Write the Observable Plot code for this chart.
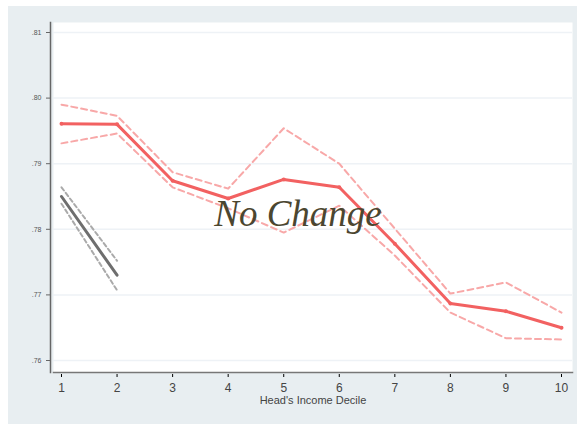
<!DOCTYPE html>
<html><head><meta charset="utf-8">
<script src="https://cdn.jsdelivr.net/npm/d3@7"></script>
<script src="https://cdn.jsdelivr.net/npm/@observablehq/plot@0.6"></script>
<style>
html,body{margin:0;padding:0;background:#fff;}
#wrap{position:relative;width:577px;height:424px;overflow:hidden;}
#bg{position:absolute;left:8px;top:6px;width:569px;height:418px;background:#e8eef1;}
#chart{position:absolute;left:0;top:0;}
#wm{position:absolute;left:0;width:577px;top:192px;text-align:center;padding-left:19px;box-sizing:border-box;
 font-family:"Liberation Serif","DejaVu Serif",serif;font-style:italic;font-size:37px;color:#4b4630;}
</style></head>
<body>
<div id="wrap"><div id="bg"></div><div id="chart"></div><div id="wm">No Change</div></div>
<script>
const deciles = [1,2,3,4,5,6,7,8,9,10];
const mainEst  = [.7961,.7960,.7874,.7847,.7876,.7864,.7778,.7687,.7675,.7650];
const upperCI  = [.7990,.7973,.7887,.7862,.7954,.7900,.7801,.7702,.7719,.7673];
const lowerCI  = [.7931,.7946,.7864,.7832,.7795,.7836,.7760,.7673,.7634,.7632];
const grayDeciles = [1,2];
const grayEst   = [.7850,.7730];
const grayUpper = [.7864,.7752];
const grayLower = [.7839,.7707];
const yTicks = [.76,.77,.78,.79,.80,.81];
const yTickLabels = [".76",".77",".78",".79",".80",".81"];
const xTitle = "Head's Income Decile";

const rows = (xs, ys) => xs.map((x,i)=>({x, y: ys[i]}));

const chart = Plot.plot({
  width: 577, height: 424,
  marginLeft: 53, marginRight: 5, marginTop: 22, marginBottom: 52,
  style: {background: "transparent", fontFamily: "Liberation Sans, Arial, sans-serif"},
  x: {domain: [1,10], range: [61,561]},
  y: {domain: [.76,.81], range: [360,32]},
  marks: [
    Plot.frame({fill: "white"}),
    Plot.gridY(yTicks, {stroke: "#eef2f6", strokeOpacity: 1, strokeWidth: 1.5}),
    Plot.frame({anchor: "left", dx: -3, stroke: "#666", strokeWidth: 1.5}),
    Plot.frame({anchor: "bottom", stroke: "#777", strokeWidth: 1.5}),
    Plot.axisY(yTicks, {dx: -3, tickSize: 4, tickFormat: (d,i)=>yTickLabels[i], fontSize: 7, fill: "#555", stroke: "#666", label: null}),
    Plot.axisX(deciles, {tickSize: 3, dy: 2, tickFormat: d=>String(d), fontSize: 12, fill: "#444", label: null}),
    Plot.text([xTitle], {frameAnchor: "bottom", dy: 31, text: d=>d, fontSize: 11, fill: "#444"}),
    Plot.line(rows(deciles, upperCI), {x:"x", y:"y", stroke: "#f8a8a8", strokeWidth: 2, strokeDasharray: "6,4"}),
    Plot.line(rows(deciles, lowerCI), {x:"x", y:"y", stroke: "#f8a8a8", strokeWidth: 2, strokeDasharray: "6,4"}),
    Plot.line(rows(deciles, mainEst), {x:"x", y:"y", stroke: "#f26161", strokeWidth: 3}),
    Plot.dot(rows(deciles, mainEst), {x:"x", y:"y", r: 2, fill: "#f26161"}),
    Plot.line(rows(grayDeciles, grayUpper), {x:"x", y:"y", stroke: "#aaa", strokeWidth: 2, strokeDasharray: "4,3"}),
    Plot.line(rows(grayDeciles, grayLower), {x:"x", y:"y", stroke: "#aaa", strokeWidth: 2, strokeDasharray: "4,3"}),
    Plot.line(rows(grayDeciles, grayEst), {x:"x", y:"y", stroke: "#6e6e6e", strokeWidth: 3})
  ]
});
document.getElementById("chart").appendChild(chart);
</script>
</body></html>
